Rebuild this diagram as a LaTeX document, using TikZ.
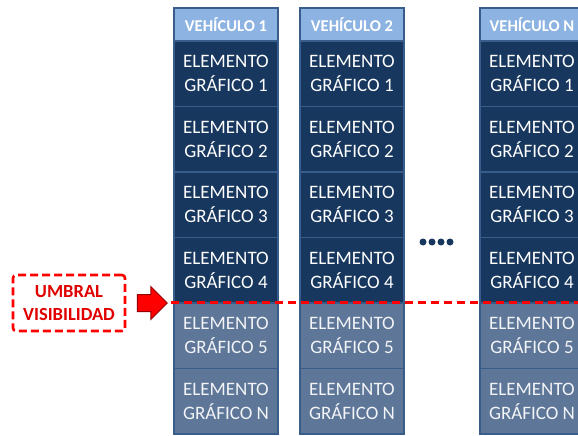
\documentclass[tikz,border=0pt]{standalone}
\usepackage{fontspec}
\setmainfont{Carlito}
\usepackage{tikz}
\usetikzlibrary{arrows.meta,positioning,shapes.arrows,calc}
\definecolor{CellNavy}   {RGB}{ 23, 55, 94}
\definecolor{CellFaded}  {RGB}{ 94,118,152}
\definecolor{HeadBlue}   {RGB}{141,179,226}
\definecolor{EdgeBlue}   {RGB}{ 56, 93,138}
\definecolor{UmbralRed}  {RGB}{255,  0,  0}
\definecolor{ArrowDark}  {RGB}{150,  0,  0}

\tikzset{
  cellbox/.style={draw=EdgeBlue, line width=1.6pt, fill=CellNavy, text=white,
    minimum width=104pt, minimum height=65.5pt, inner sep=0pt, align=center,
    font=\fontsize{19}{24}\selectfont},
  fadedbox/.style={cellbox, fill=CellFaded, text=white!92!CellFaded},
  headbox/.style={cellbox, fill=HeadBlue, minimum height=33pt,
    font=\fontsize{16.5}{18}\selectfont\bfseries},
  dotmark/.style={circle, fill=CellNavy, inner sep=0pt, minimum size=7pt}
}

\begin{document}
\begin{tikzpicture}[x=1pt,y=-1pt]
  \useasboundingbox (0,0) rectangle (578,436);
  \clip (0,0) rectangle (578,436);
  % Vehicle columns
  \foreach \col/\cx/\lab in {1/226/1, 2/352/2, N/532/N}{
    \node[headbox] (c\col h) at (\cx,24.5) {VEHÍCULO \lab};
    \foreach \row in {1,2,3,4}{
      \node[cellbox] (c\col r\row) at (\cx,{41+65.5*(\row-0.5)})
        {ELEMENTO\\GRÁFICO \row};
    }
    \node[fadedbox] (c\col r5) at (\cx,{41+65.5*4.5}) {ELEMENTO\\GRÁFICO 5};
    \node[fadedbox] (c\col rN) at (\cx,{41+65.5*5.5}) {ELEMENTO\\GRÁFICO N};
  }
  % More vehicles
  \foreach \i/\dx in {1/423,2/432,3/441,4/450}
    \node[dotmark] (dot\i) at (\dx,242) {};
  % Visibility threshold
  \draw[UmbralRed, line width=3pt, dash pattern=on 8pt off 5pt]
    ($(c1r4.south west)+(-2,-1)$) -- ($(cNr4.south east)+(0,-1)$);
  \node[draw=UmbralRed, line width=2.6pt, dash pattern=on 8pt off 4pt,
        rounded corners=3pt, minimum width=112pt, minimum height=56pt,
        text=UmbralRed!88!black, align=center,
        font=\fontsize{18.5}{23}\selectfont\bfseries]
    (umbral) at (69,303) {UMBRAL\\VISIBILIDAD};
  \node[single arrow, fill=UmbralRed, draw=ArrowDark, line width=1pt,
        minimum width=32pt, minimum height=30pt, inner xsep=0pt, inner ysep=8pt,
        single arrow head extend=8pt]
    (umbralarrow) at (148,303) {};
\end{tikzpicture}
\end{document}
